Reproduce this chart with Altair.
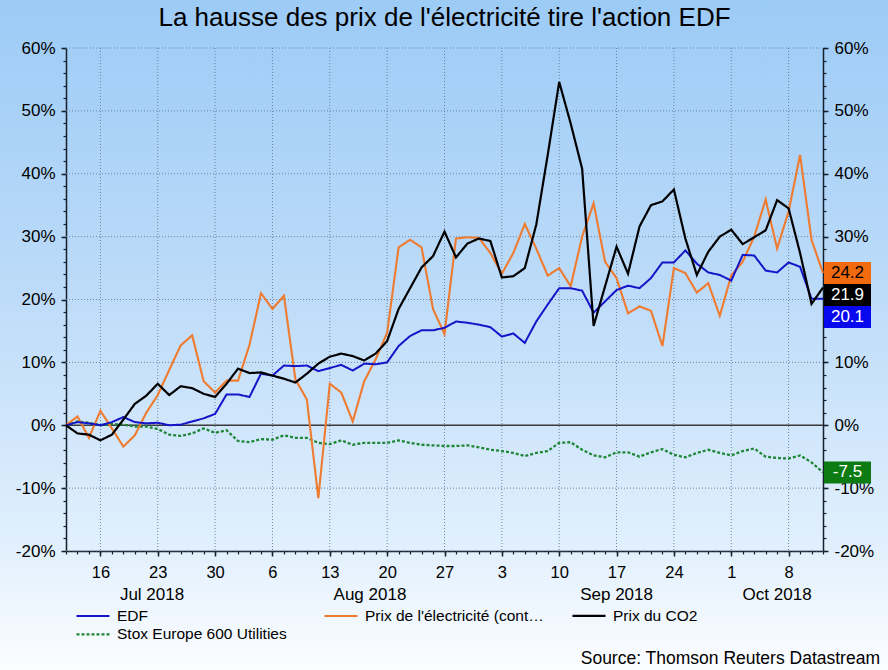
import altair as alt
import pandas as pd

F = "Liberation Sans"

# ---------------- data ----------------
dates = pd.bdate_range("2018-07-11", "2018-10-11")   # trading days
n = len(dates)
idx = list(range(n))

series_names = ["EDF", "Prix de l'électricité (cont…", "Prix du CO2", "Stox Europe 600 Utilities"]
series_colors = ["#1414c8", "#ef7b30", "#000000", "#1e8636"]
box_fill = ["#0808ee", "#f26a0e", "#000000", "#0b7b12"]
box_text = ["#ffffff", "#000000", "#ffffff", "#ffffff"]

edf = [0, 0.5, 0.3, 0, 0.5, 1.3, 0.5, 0.3, 0.4, 0,
       0.1, 0.6, 1.1, 1.8, 4.9, 4.9, 4.5, 8.2, 7.9, 9.5,
       9.4, 9.5, 8.6, 9.1, 9.6, 8.7, 9.8, 9.7, 10.0, 12.6,
       14.2, 15.1, 15.1, 15.5, 16.5, 16.3, 16.0, 15.6, 14.1, 14.6,
       13.1, 16.5, 19.2, 21.8, 21.8, 21.4, 17.9, 19.7, 21.5, 22.2,
       21.8, 23.4, 25.9, 25.9, 27.8, 25.7, 24.3, 23.9, 23.0, 27.1,
       27.0, 24.6, 24.3, 25.9, 25.2, 20.1, 20.1]
elec = [0, 1.4, -2.0, 2.3, -0.5, -3.4, -1.6, 2.0, 4.8, 8.8,
        12.7, 14.3, 7.0, 5.2, 7.1, 7.1, 12.8, 21.0, 18.5, 20.6,
        7.3, 4.1, -11.6, 6.6, 5.2, 0.6, 7.0, 10.5, 14.7, 28.3,
        29.5, 28.3, 18.5, 14.5, 29.7, 29.9, 29.8, 27.4, 24.1, 27.4,
        32.0, 28.1, 23.8, 25.0, 22.1, 30.0, 35.3, 26.0, 23.4, 17.8,
        18.9, 18.2, 12.6, 25.0, 24.2, 21.1, 22.6, 17.4, 23.8, 26.0,
        30.0, 35.9, 28.1, 34.0, 43.0, 29.5, 24.2]
co2 = [0, -1.3, -1.5, -2.4, -1.5, 0.9, 3.4, 4.7, 6.6, 4.8,
       6.2, 5.9, 5.0, 4.5, 6.6, 9.0, 8.3, 8.4, 7.9, 7.4,
       6.8, 8.2, 9.8, 10.9, 11.4, 11.0, 10.3, 11.4, 13.4, 18.5,
       21.8, 25.1, 26.9, 30.8, 26.7, 28.9, 29.7, 29.3, 23.5, 23.7,
       25.0, 31.9, 43.0, 54.6, 48.0, 40.8, 15.8, 22.1, 28.4, 24.1,
       31.6, 35.0, 35.6, 37.5, 29.7, 23.9, 27.6, 30.0, 31.1, 28.8,
       29.9, 31.0, 35.8, 34.5, 27.4, 19.3, 21.9]
stox = [0, 0.6, 0.4, 0, 0.2, 0.1, -0.2, -0.2, -0.6, -1.5,
        -1.7, -1.3, -0.5, -1.2, -0.8, -2.5, -2.7, -2.2, -2.3, -1.6,
        -2.0, -2.0, -2.8, -3.0, -2.4, -3.1, -2.8, -2.8, -2.8, -2.4,
        -2.8, -3.1, -3.2, -3.3, -3.3, -3.2, -3.5, -3.9, -4.1, -4.4,
        -4.9, -4.4, -4.1, -2.8, -2.7, -3.9, -4.8, -5.1, -4.3, -4.3,
        -5.0, -4.3, -3.8, -4.7, -5.1, -4.4, -3.9, -4.4, -4.8, -4.1,
        -3.7, -5.0, -5.2, -5.3, -4.8, -5.9, -7.5]

y_major = [-20, -10, 0, 10, 20, 30, 40, 50, 60]
y_minor = list(range(-20, 61, 2))

title_text = "La hausse des prix de l'électricité tire l'action EDF"
source_text = "Source: Thomson Reuters Datastream"

series_values = [edf, elec, co2, stox]
for s in series_values:
    assert len(s) == n, (len(s), n)

# ---------------- layout (whole canvas is the view) ----------------
CW, CH = 888, 670
PL, PR, PT, PB = 66, 823, 48, 551        # plot rectangle inside the canvas

mondays = [i for i, d in enumerate(dates) if d.weekday() == 0]
day_labels = [str(dates[i].day) for i in mondays]
label_expr = ("[" + ",".join(f"'{s}'" for s in day_labels) + "][indexof(["
              + ",".join(str(i) for i in mondays) + "], datum.value)]")

month_keys = []
for i, d in enumerate(dates):
    k = d.strftime("%b %Y")
    if not month_keys or month_keys[-1][0] != k:
        month_keys.append([k, i])
month_pos = []
for j, (k, start) in enumerate(month_keys):
    end = month_keys[j + 1][1] if j + 1 < len(month_keys) else n - 1
    month_pos.append((start + end) / 2)
month_df = pd.DataFrame({"m": month_pos, "t": [k for k, _ in month_keys]})

xs = alt.Scale(domain=[0, n - 1], range=[PL, PR], nice=False, zero=False)
ys = alt.Scale(domain=[-20, 60], range=[PB, PT], nice=False, zero=False)

rows = []
for k in [3, 1, 0, 2]:
    for i, v in zip(idx, series_values[k]):
        rows.append({"i": i, "v": v, "s": series_names[k]})
df = pd.DataFrame(rows)

# end-value boxes (de-overlapped)
last = [s[-1] for s in series_values]
order = sorted(range(4), key=lambda k: -last[k])
pos = {}
prev = None
for k in order:
    p = last[k] if prev is None else min(last[k], prev - 3.5)
    pos[k] = p
    prev = p
box_df = pd.DataFrame({
    "lab": [f"{last[k]:.1f}" for k in range(4)],
    "pos": [pos[k] for k in range(4)],
    "top": [pos[k] + 1.75 for k in range(4)],
    "bot": [pos[k] - 1.75 for k in range(4)],
    "fill": box_fill,
    "tc": box_text,
})

AXC = "#15202c"
AX = dict(domainColor=AXC, tickColor=AXC, labelColor="#000000", labelFont=F,
          title=None, zindex=0, grid=False)
OFF_B = -(CH - PB)
OFF_L = -PL
OFF_R = -(CW - PR)

x_main = alt.Axis(orient="bottom", offset=OFF_B, values=mondays, labelExpr=label_expr,
                  tickSize=5, tickWidth=1.5, domainWidth=1.5, labelFontSize=16.5,
                  labelPadding=8, labelFlush=False, **AX)
x_minor = alt.Axis(orient="bottom", offset=OFF_B, values=idx, labels=False, domain=False,
                   tickSize=3, tickWidth=1.2, **AX)
y_left = alt.Axis(orient="left", offset=OFF_L, values=y_major, labelExpr="datum.value + '%'",
                  tickSize=5, tickWidth=1.5, domainWidth=1.5, labelFontSize=17,
                  labelPadding=6, **AX)
y_left_minor = alt.Axis(orient="left", offset=OFF_L, values=y_minor, labels=False,
                        domain=False, tickSize=3, tickWidth=1.2, **AX)
y_right = alt.Axis(orient="right", offset=OFF_R, values=y_major, labelExpr="datum.value + '%'",
                   tickSize=5, tickWidth=1.5, domainWidth=1.5, labelFontSize=17,
                   labelPadding=6, **AX)
y_right_minor = alt.Axis(orient="right", offset=OFF_R, values=y_minor, labels=False,
                         domain=False, tickSize=3, tickWidth=1.2, **AX)

GRAD_EXPR = ("{'gradient': 'linear', 'x1': 0, 'y1': 0, 'x2': 0, 'y2': 1, 'stops': ["
             "{'offset': 0, 'color': '#9ccbf6'}, {'offset': 0.45, 'color': '#bedcf9'}, "
             "{'offset': 0.82, 'color': '#e2f0fd'}, {'offset': 1, 'color': '#fcfdff'}]}")

GRID = "#6a86a2"
vgrid = alt.Chart(pd.DataFrame({"i": mondays})).mark_rule(
    color=GRID, strokeDash=[1, 2], strokeWidth=1).encode(
    x=alt.X("i:Q", scale=xs, axis=None), y=alt.value(PT), y2=alt.value(PB))
hgrid = alt.Chart(pd.DataFrame({"v": y_major})).mark_rule(
    color=GRID, strokeDash=[1, 2], strokeWidth=1).encode(
    y=alt.Y("v:Q", scale=ys, axis=None), x=alt.value(PL), x2=alt.value(PR))
zero = alt.Chart(pd.DataFrame({"v": [0]})).mark_rule(color="#3c3c3c", strokeWidth=1.3).encode(
    y=alt.Y("v:Q", scale=ys, axis=None), x=alt.value(PL), x2=alt.value(PR))

leg = alt.Legend(title=None, orient="none", legendX=75, legendY=607.7, direction="horizontal",
                 columns=3, gridAlign="all", columnPadding=27, rowPadding=1.6,
                 symbolType="stroke", symbolSize=1089, symbolStrokeWidth=2, clipHeight=16,
                 labelFont=F, labelFontSize=15.5, labelColor="#000000", labelLimit=320,
                 labelOffset=6, padding=0)

lines = alt.Chart(df).mark_line(strokeCap="butt").encode(
    x=alt.X("i:Q", scale=xs, axis=x_main),
    y=alt.Y("v:Q", scale=ys, axis=y_left),
    color=alt.Color("s:N", scale=alt.Scale(domain=series_names, range=series_colors), legend=leg),
    strokeDash=alt.StrokeDash("s:N", scale=alt.Scale(domain=series_names,
                              range=[[1, 0], [1, 0], [1, 0], [3, 2]]), legend=leg),
    strokeWidth=alt.StrokeWidth("s:N", scale=alt.Scale(domain=series_names,
                                range=[2, 2.3, 2, 3]), legend=None),
)

axdf = pd.DataFrame({"i": [0, n - 1], "v": [-20, 60]})
inv1 = alt.Chart(axdf).mark_point(opacity=0).encode(
    x=alt.X("i:Q", scale=xs, axis=x_minor), y=alt.Y("v:Q", scale=ys, axis=y_right))
inv2 = alt.Chart(axdf).mark_point(opacity=0).encode(
    x=alt.X("i:Q", scale=xs, axis=None), y=alt.Y("v:Q", scale=ys, axis=y_left_minor))
inv3 = alt.Chart(axdf).mark_point(opacity=0).encode(
    x=alt.X("i:Q", scale=xs, axis=None), y=alt.Y("v:Q", scale=ys, axis=y_right_minor))

months = alt.Chart(month_df).mark_text(font=F, fontSize=17, color="#000000",
                                       align="center", baseline="alphabetic").encode(
    x=alt.X("m:Q", scale=xs, axis=None), y=alt.value(600), text="t:N")

boxes = alt.Chart(box_df).mark_rect().encode(
    x=alt.value(PR + 1), x2=alt.value(PR + 48),
    y=alt.Y("top:Q", scale=ys, axis=None), y2="bot:Q",
    fill=alt.Fill("fill:N", scale=None))
boxtext = alt.Chart(box_df).mark_text(font=F, fontSize=17, align="center",
                                      baseline="middle").encode(
    x=alt.value(PR + 24.5), y=alt.Y("pos:Q", scale=ys, axis=None), text="lab:N",
    fill=alt.Fill("tc:N", scale=None))

title_t = alt.Chart(pd.DataFrame({"t": [title_text]})).mark_text(
    font=F, fontSize=26, color="#000000", align="center", baseline="alphabetic").encode(
    x=alt.value((PL + PR) / 2), y=alt.value(26), text="t:N")
source_t = alt.Chart(pd.DataFrame({"t": [source_text]})).mark_text(
    font=F, fontSize=17.5, color="#000000", align="right", baseline="alphabetic").encode(
    x=alt.value(880), y=alt.value(664), text="t:N")

chart = alt.layer(
    vgrid, hgrid, zero, lines, inv1, inv2, inv3, months, boxes, boxtext, title_t, source_t
).resolve_scale(x="shared", y="shared").resolve_axis(
    x="independent", y="independent"
).properties(
    width=CW, height=CH, autosize=alt.AutoSizeParams(type="none"), padding=0,
    background="#ffffff", view=alt.ViewBackground(fill={"expr": GRAD_EXPR})
).configure_view(strokeWidth=0)

chart.save("out.html", embed_options={"renderer": "svg", "actions": False})
